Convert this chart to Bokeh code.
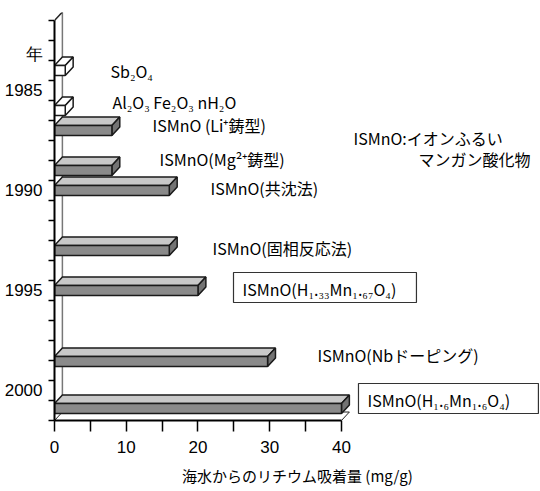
from bokeh.plotting import figure
from bokeh.models import Range1d, FixedTicker
from bokeh.core.properties import value
from bokeh.embed import file_html
from bokeh.resources import INLINE

# ---- data ----
bar_years = [1984.0, 1986.0, 1987.0, 1989.0, 1990.0, 1993.0, 1995.0, 1998.55, 2000.9]
bar_values = [1.5, 1.5, 8, 8, 16, 16, 20, 29.7, 40]
bar_kind = ["white", "white", "gray", "gray", "gray", "gray", "gray", "gray", "gray"]

year_ticks = [1985, 1990, 1995, 2000]
year_title_pos = 1983.2
x_ticks = [0, 10, 20, 30, 40]
x_minor = [5, 15, 25, 35]

label_texts = ["Sb₂O₄", "Al₂O₃ Fe₂O₃ nH₂O", "ISMnO (Li⁺鋳型)", "ISMnO(Mg²⁺鋳型)",
               "ISMnO(共沈法)", "ISMnO(固相反応法)", "ISMnO(H₁.₃₃Mn₁.₆₇O₄)",
               "ISMnO(Nbドーピング)", "ISMnO(H₁.₆Mn₁.₆O₄)",
               "ISMnO:イオンふるい", "マンガン酸化物"]
label_x = [7.8, 8.08, 13.66, 14.63, 21.74, 22.02, 26.2, 36.66, 43.62, 41.67, 50.73]
label_y = [1984.0, 1985.55, 1986.7, 1988.4, 1989.85, 1992.85, 1994.9, 1998.2, 2000.45, 1987.35, 1988.4]

box_left = [24.95, 42.37]
box_right = [50.45, 67.45]
box_top = [1994.1, 1999.65]
box_bottom = [1995.6, 2001.15]

# ---- figure ----
Y_TOP, Y_BOT = 1981.5, 2001.5
X_MAX = 67.74
DX, DY = 1.1, 0.425   # 3-D depth offsets
HALF = 0.25

p = figure(width=540, height=491, x_range=Range1d(0, X_MAX),
           y_range=Range1d(Y_BOT, Y_TOP - 0.4),
           output_backend="svg", toolbar_location=None,
           min_border_left=54, min_border_right=0, min_border_top=12, min_border_bottom=71)
p.xgrid.visible = False
p.ygrid.visible = False
p.outline_line_color = None
p.background_fill_color = "white"

# back wall and floor
p.line(x=[DX, DX], y=[Y_TOP - DY, Y_BOT - DY], line_color="#777777", line_width=1.5)
p.line(x=[0, DX], y=[Y_TOP, Y_TOP - DY], line_color="#222222", line_width=1.5)
p.patch(x=[0, x_ticks[-1], x_ticks[-1] + DX, DX], y=[Y_BOT, Y_BOT, Y_BOT - DY, Y_BOT - DY],
        fill_color="white", line_color="#222222", line_width=1)

# 3-D bars
front_fill = {"white": "white", "gray": "#8a8a8a"}
top_fill = {"white": "white", "gray": "#c8c8c8"}
side_fill = {"white": "white", "gray": "#737373"}
for yr, v, k in zip(bar_years, bar_values, bar_kind):
    t, b = yr - HALF, yr + HALF
    p.patch(x=[0, v, v + DX, DX], y=[t, t, t - DY, t - DY],
            fill_color=top_fill[k], line_color="#1a1a1a", line_width=1.5)
    p.patch(x=[v, v + DX, v + DX, v], y=[t, t - DY, b - DY, b],
            fill_color=side_fill[k], line_color="#1a1a1a", line_width=1.5)
    p.quad(left=[0], right=[v], top=[t], bottom=[b],
           fill_color=front_fill[k], line_color="#1a1a1a", line_width=1.5)

# boxes around two labels
p.quad(left=box_left, right=box_right, top=box_top, bottom=box_bottom,
       fill_color=None, line_color="#333333", line_width=1.2)

p.text(x=label_x, y=label_y, text=label_texts, text_font=value("Noto Sans CJK JP"),
       text_font_size="16px", text_baseline="middle", text_align="left", text_color="black")

# axes
xa = p.xaxis[0]
xa.ticker = FixedTicker(ticks=x_ticks, minor_ticks=x_minor)
xa.bounds = (0, 40)
xa.axis_line_width = 2
xa.axis_line_color = "black"
xa.major_tick_out = 11
xa.major_tick_in = 0
xa.minor_tick_out = 11
xa.minor_tick_in = 0
xa.major_tick_line_width = 1.5
xa.minor_tick_line_width = 1.5
xa.major_tick_line_color = "black"
xa.minor_tick_line_color = "black"
xa.major_label_text_font = "Liberation Sans"
xa.major_label_text_font_size = "17px"
xa.major_label_text_color = "black"
xa.major_label_standoff = 9
xa.axis_label = "海水からのリチウム吸着量 (mg/g)"
xa.axis_label_text_font = "Noto Sans CJK JP"
xa.axis_label_text_font_style = "normal"
xa.axis_label_text_font_size = "15px"
xa.axis_label_text_color = "black"
xa.axis_label_standoff = 9

ya = p.yaxis[0]
ya.ticker = FixedTicker(ticks=[year_title_pos] + year_ticks,
                        minor_ticks=[Y_TOP + i for i in range(21)])
ya.major_label_overrides = {year_title_pos: "年"}
ya.bounds = (Y_TOP, Y_BOT)
ya.axis_line_width = 2
ya.axis_line_color = "black"
ya.major_tick_out = 0
ya.major_tick_in = 0
ya.minor_tick_out = 6
ya.minor_tick_in = 0
ya.minor_tick_line_width = 1.5
ya.minor_tick_line_color = "black"
ya.major_label_text_font = "Liberation Sans"
ya.major_label_text_font_size = "17px"
ya.major_label_text_color = "black"
ya.major_label_standoff = 6

open("out.html", "w").write(file_html(p, INLINE))
